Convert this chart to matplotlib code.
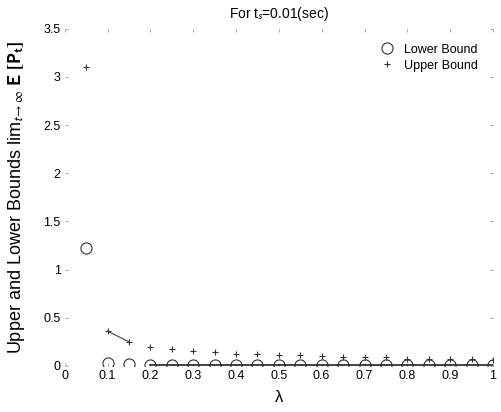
import matplotlib
matplotlib.use("Agg")
import matplotlib.pyplot as plt

# ---------- data ----------
lam = [0.05, 0.10, 0.15, 0.20, 0.25, 0.30, 0.35, 0.40, 0.45, 0.50,
       0.55, 0.60, 0.65, 0.70, 0.75, 0.80, 0.85, 0.90, 0.95, 1.00]
lower = [1.22, 0.03, 0.02, 0.01, 0.01, 0.01, 0.01, 0.01, 0.01, 0.01,
         0.01, 0.01, 0.01, 0.01, 0.01, 0.01, 0.01, 0.01, 0.01, 0.01]
upper = [3.10, 0.36, 0.25, 0.20, 0.18, 0.15, 0.14, 0.12, 0.12, 0.11,
         0.11, 0.10, 0.09, 0.09, 0.09, 0.07, 0.07, 0.07, 0.07, 0.06]
xticks = [0, 0.1, 0.2, 0.3, 0.4, 0.5, 0.6, 0.7, 0.8, 0.9, 1]
yticks = [0, 0.5, 1, 1.5, 2, 2.5, 3, 3.5]

plt.rcParams['font.family'] = ['Liberation Sans', 'DejaVu Sans']
plt.rcParams['mathtext.fontset'] = 'stixsans'

fig = plt.figure(figsize=(5.02, 4.12), dpi=100)
ax = fig.add_axes([0.129, 0.112, 0.853, 0.818])

ax.plot(lam, lower, linestyle='none', marker='o', markersize=8,
        markerfacecolor='none', markeredgecolor='#333333',
        markeredgewidth=0.8, label='Lower Bound')
ax.plot(lam, upper, linestyle='none', marker='+', markersize=5,
        color='#333333', markeredgewidth=0.8, label='Upper Bound')
# the only line segments that survived the scan
ax.plot(lam[3:], lower[3:], color='#222222', linewidth=1.2)
ax.plot(lam[1:3], upper[1:3], color='#444444', linewidth=0.8)

ax.set_xlim(0, 1)
ax.set_ylim(0, 3.5)
ax.set_xticks(xticks)
ax.set_xticklabels([f'{t:g}' for t in xticks])
ax.set_yticks(yticks)
ax.set_yticklabels([f'{t:g}' for t in yticks])
for s in ax.spines.values():
    s.set_visible(False)
ax.tick_params(direction='in', length=2, width=0.6, color='#999999',
               labelsize=9, top=True, right=True, pad=3)

ax.set_title(r'For t$_s$=0.01(sec)', fontsize=10, pad=8)
ax.set_xlabel('λ', fontsize=12, labelpad=6)
ax.set_ylabel(r'Upper and Lower Bounds lim$_{t\rightarrow\infty}$ $\mathbf{E\ [P_t]}$',
              fontsize=13, labelpad=12)

ax.legend(loc='upper right', frameon=False, fontsize=9,
          handlelength=1.2, borderaxespad=0.8, labelspacing=0.3)

fig.savefig('out.png', dpi=100, facecolor='white')
